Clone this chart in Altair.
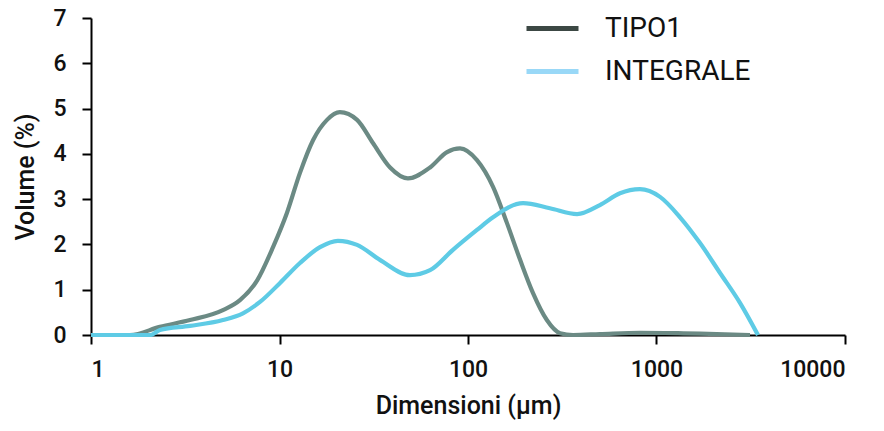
import altair as alt
import pandas as pd

# TIPO1 series
tipo_x = [1, 1.61, 2.32, 3.35, 5.01, 6.17, 7.6, 9.24, 10.96, 12.84, 15.06, 17.87, 20.9, 25.8,
          31.3, 38.6, 48.0, 62.9, 77.4, 90.7, 111.6, 135.8, 161, 189, 221, 262, 308, 361,
          500, 817, 1300, 1702, 3133]
tipo_y = [0, 0, 0.18, 0.33, 0.55, 0.77, 1.2, 1.94, 2.7, 3.58, 4.3, 4.75, 4.92, 4.75,
          4.24, 3.7, 3.46, 3.7, 4.04, 4.12, 3.86, 3.27, 2.47, 1.66, 0.93, 0.33, 0.04, 0.0,
          0.02, 0.05, 0.04, 0.03, 0.0]

# INTEGRALE series
int_x = [1, 2.06, 2.32, 3.35, 5.01, 6.4, 7.88, 10.07, 12.84, 16.4, 20.4, 25.8, 34.1, 49.2,
         62.9, 83.2, 111.6, 135.8, 196, 272, 379, 501, 640, 817, 1044, 1333, 1702, 2173,
         2773, 3454]
int_y = [0, 0, 0.11, 0.2, 0.33, 0.48, 0.73, 1.15, 1.59, 1.94, 2.08, 1.99, 1.66, 1.32,
         1.43, 1.88, 2.32, 2.6, 2.91, 2.8, 2.67, 2.87, 3.13, 3.22, 3.05, 2.6, 2.03, 1.37,
         0.71, 0.0]

series_names = ["TIPO1", "INTEGRALE"]
line_colors = ["#6b8a84", "#5ecbe5"]
legend_colors = ["#3c4844", "#99d8f7"]
x_ticks = [1, 10, 100, 1000, 10000]
y_ticks = [0, 1, 2, 3, 4, 5, 6, 7]

df = pd.concat([
    pd.DataFrame({"x": tipo_x, "y": tipo_y, "s": series_names[0], "o": range(len(tipo_x))}),
    pd.DataFrame({"x": int_x, "y": int_y, "s": series_names[1], "o": range(len(int_x))}),
])

FONT = "Roboto"

xenc = alt.X("x:Q", scale=alt.Scale(type="log", domain=[1, 10000]),
             axis=alt.Axis(values=x_ticks, format="d", title="Dimensioni (µm)",
                           grid=False, tickSize=9, labelPadding=14, titlePadding=12))
yenc = alt.Y("y:Q", scale=alt.Scale(domain=[0, 7], nice=False),
             axis=alt.Axis(values=y_ticks, title="Volume (%)", grid=False,
                           tickSize=9, labelPadding=16, titlePadding=14))

legend_layer = alt.Chart(df).mark_line(opacity=0).encode(
    x=xenc, y=yenc, order="o:Q",
    color=alt.Color("s:N", scale=alt.Scale(domain=series_names, range=legend_colors),
                    legend=alt.Legend(title=None, orient="none", legendX=433, legendY=-18,
                                      symbolType="stroke", symbolSize=2704,
                                      symbolStrokeWidth=5, symbolOpacity=1,
                                      labelFont=FONT, labelFontSize=28, labelColor="#111",
                                      labelOffset=24, rowPadding=-15)),
)

lines = []
for name, col in zip(series_names, line_colors):
    lines.append(
        alt.Chart(df).transform_filter(alt.datum.s == name)
        .mark_line(strokeWidth=4.2, interpolate="monotone", color=col)
        .encode(x=xenc, y=yenc, order="o:Q")
    )

chart = alt.layer(legend_layer, *lines).properties(
    width=754, height=317,
    autosize=alt.AutoSizeParams(type="none"),
    padding={"left": 91, "top": 18, "right": 39, "bottom": 96},
).configure_view(stroke=None).configure_axis(
    domainColor="#000", domainWidth=2, tickColor="#000", tickWidth=2,
    labelFont=FONT, labelFontSize=23, labelFontWeight=500, labelColor="#111",
    titleFont=FONT, titleFontSize=25, titleFontWeight=500, titleColor="#111",
)

chart.save("out.html", embed_options={"renderer": "svg", "actions": False})
